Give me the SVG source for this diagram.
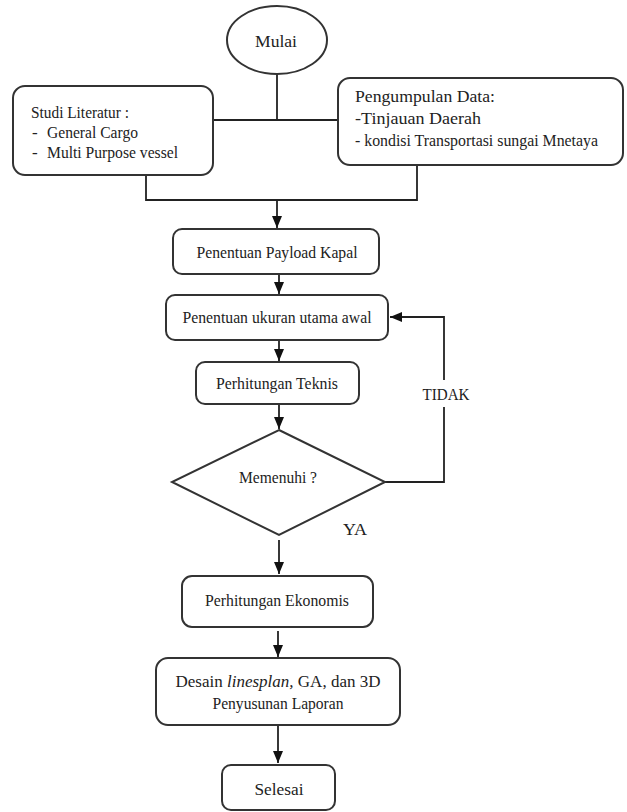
<svg xmlns="http://www.w3.org/2000/svg" width="627" height="812" viewBox="0 0 627 812">
<style>
.box{fill:#fff;stroke:#333;stroke-width:2}
.ln{fill:none;stroke:#222;stroke-width:1.8}
text{font-family:"Liberation Serif","DejaVu Serif",serif;font-size:17px;fill:#222}
.c{text-anchor:middle}
</style>
<defs>
<marker id="ah" viewBox="0 0 12 10" refX="12" refY="5" markerWidth="12" markerHeight="10" markerUnits="userSpaceOnUse" orient="auto">
<path d="M0,0 L12,5 L0,10 z" fill="#111"/>
</marker>
</defs>
<rect width="627" height="812" fill="#fff"/>
<g id="connectors">
<path class="ln" d="M277,74 V120 M213,120 H338"/>
<path class="ln" d="M146,175 V200 H417 V165"/>
<path class="ln" d="M277,200 V228" marker-end="url(#ah)"/>
<path class="ln" d="M279,274 V294" marker-end="url(#ah)"/>
<path class="ln" d="M279,340 V361" marker-end="url(#ah)"/>
<path class="ln" d="M279,404 V429" marker-end="url(#ah)"/>
<path class="ln" d="M385,482 H444 V407"/>
<path class="ln" d="M444,380 V317 H390" marker-end="url(#ah)"/>
<path class="ln" d="M279,540 V574" marker-end="url(#ah)"/>
<path class="ln" d="M278,631 V657" marker-end="url(#ah)"/>
<path class="ln" d="M278,725 V763" marker-end="url(#ah)"/>
<text class="c" x="446" y="400" textLength="47" lengthAdjust="spacingAndGlyphs">TIDAK</text>
<text x="343" y="535" textLength="24" lengthAdjust="spacingAndGlyphs">YA</text>
</g>
<g id="mulai">
<ellipse class="box" cx="277" cy="40" rx="50" ry="34"/>
<text class="c" x="276" y="47" textLength="42" lengthAdjust="spacingAndGlyphs">Mulai</text>
</g>
<g id="studi">
<rect class="box" x="13" y="86" width="200" height="89" rx="12"/>
<text x="31" y="118" textLength="98" lengthAdjust="spacingAndGlyphs">Studi Literatur :</text>
<text x="32" y="138">-</text>
<text x="47" y="138" textLength="91" lengthAdjust="spacingAndGlyphs">General Cargo</text>
<text x="32" y="158">-</text>
<text x="47" y="158" textLength="131" lengthAdjust="spacingAndGlyphs">Multi Purpose vessel</text>
</g>
<g id="pengumpulan">
<rect class="box" x="338" y="78" width="285" height="87" rx="12"/>
<text x="355" y="102" textLength="140" lengthAdjust="spacingAndGlyphs">Pengumpulan Data:</text>
<text x="355" y="124" textLength="126" lengthAdjust="spacingAndGlyphs">-Tinjauan Daerah</text>
<text x="355" y="146" font-size="16" textLength="243" lengthAdjust="spacingAndGlyphs">- kondisi Transportasi sungai Mnetaya</text>
</g>
<g id="payload">
<rect class="box" x="173" y="229" width="206" height="45" rx="9"/>
<text class="c" x="277" y="258" textLength="161" lengthAdjust="spacingAndGlyphs">Penentuan Payload Kapal</text>
</g>
<g id="ukuran">
<rect class="box" x="166" y="295" width="222" height="45" rx="9"/>
<text class="c" x="277" y="323" textLength="189" lengthAdjust="spacingAndGlyphs">Penentuan ukuran utama awal</text>
</g>
<g id="teknis">
<rect class="box" x="196" y="362" width="163" height="42" rx="9"/>
<text class="c" x="277" y="389" textLength="122" lengthAdjust="spacingAndGlyphs">Perhitungan Teknis</text>
</g>
<g id="memenuhi">
<polygon class="box" points="279,430 385,482 279,535 172,482"/>
<text class="c" x="278" y="483" textLength="78" lengthAdjust="spacingAndGlyphs">Memenuhi ?</text>
</g>
<g id="ekonomis">
<rect class="box" x="182" y="576" width="191" height="51" rx="10"/>
<text class="c" x="277" y="606" textLength="144" lengthAdjust="spacingAndGlyphs">Perhitungan Ekonomis</text>
</g>
<g id="desain">
<rect class="box" x="156" y="658" width="244" height="67" rx="12"/>
<text class="c" x="278" y="687" font-size="15">Desain <tspan font-style="italic">linesplan,</tspan> GA, dan 3D</text>
<text class="c" x="278" y="709" textLength="131" lengthAdjust="spacingAndGlyphs">Penyusunan Laporan</text>
</g>
<g id="selesai">
<rect class="box" x="222" y="765" width="113" height="45" rx="9"/>
<text class="c" x="279" y="795" textLength="49" lengthAdjust="spacingAndGlyphs">Selesai</text>
</g>
</svg>
